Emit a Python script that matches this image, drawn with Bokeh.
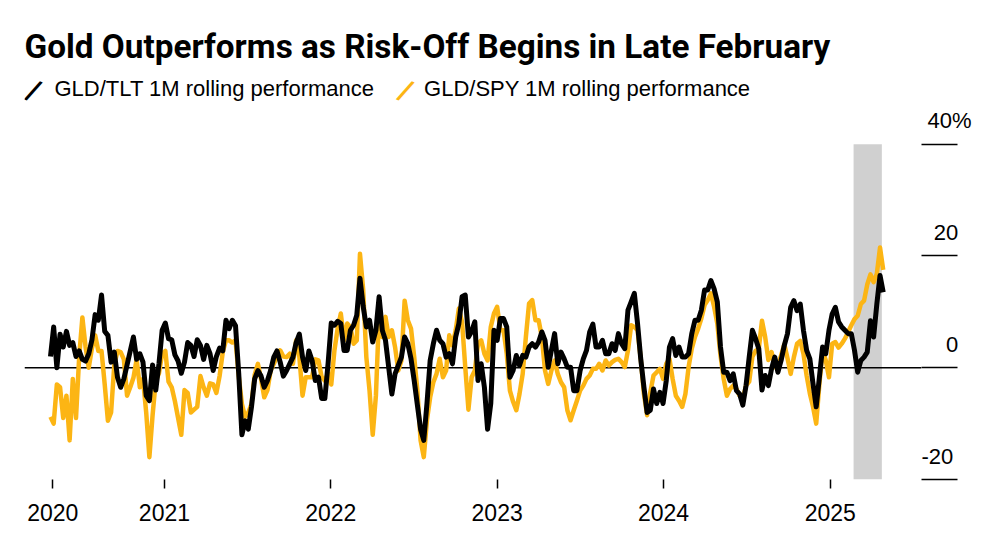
import pandas as pd
from bokeh.plotting import figure
from bokeh.models import (Range1d, FixedTicker, DatetimeTickFormatter, Span, BoxAnnotation,
                          Legend, LegendItem, ColumnDataSource, LinearAxis, Label)
from bokeh.embed import file_html
from bokeh.resources import INLINE

# ---------------- data (weekly) ----------------
start_date = "2020-04-26"

gld_tlt = [
    2.0, 7.3, 0.0, 6.0, 3.7, 6.5, 4.0, 4.5, 2.0, 3.0,
    1.5, 1.2, 2.5, 5.0, 9.5, 8.5, 13.0, 6.5, 5.8, 1.0,
    2.8, -1.7, -3.5, -2.0, 0.5, 3.0, 5.5, 1.5, 2.5, 1.0,
    -5.0, -5.9, 0.5, -4.0, 0.7, 6.7, 8.0, 5.2, 5.0, 2.3,
    1.2, -1.0, 1.0, 4.5, 4.0, 2.0, 5.0, 4.0, 1.5, 4.0,
    2.5, -0.5, 2.0, 3.5, 3.0, 8.5, 7.0, 8.5, 7.5, -1.0,
    -12.0, -9.5, -11.0, -7.0, -2.0, -0.5, -1.5, -3.5, -2.3, -0.5,
    1.9, 3.0, 1.0, -1.5, -0.5, 0.7, 1.9, 4.5, 6.0, 1.9,
    -0.5, 3.0, 1.3, -2.3, -1.7, -5.5, -5.5, 0.7, 8.0, 7.6,
    8.3, 7.9, 3.1, 3.1, 6.7, 7.6, 9.4, 16.0, 11.0, 7.3,
    8.5, 4.6, 6.7, 12.7, 6.7, 4.9, 0.1, -4.7, -1.1, 0.4,
    1.9, 5.5, 4.3, 1.6, -2.3, -6.7, -11.0, -13.0, -6.4, 1.3,
    4.3, 6.7, 4.9, 4.3, 1.9, 2.5, 0.7, 5.5, 7.9, 12.7,
    13.0, 5.5, 6.5, 8.2, -2.3, 0.7, -3.5, -11.0, -6.4, 6.7,
    4.9, 8.8, 8.8, 7.3, -1.7, -0.5, 2.2, 0.4, 2.2, 1.9,
    3.7, 4.3, 3.7, 4.6, 6.4, 4.9, 0.1, 3.1, 6.1, 0.7,
    2.8, 1.6, 0.1, 0.1, -4.1, -4.1, -0.5, 1.6, 3.1, 6.4,
    7.8, 3.7, 3.7, 4.9, 2.5, 2.5, 4.3, 3.1, 6.1, 4.3,
    3.4, 10.3, 11.8, 13.3, 7.9, 1.6, -3.5, -8.0, -7.6, -3.8,
    -6.4, -4.4, -6.4, -2.3, 3.7, 5.2, 2.2, 3.7, 1.9, 1.9,
    2.5, 6.1, 8.5, 8.5, 10.3, 13.9, 13.9, 15.6, 14.1, 11.8,
    3.7, -0.8, -0.8, -2.3, -1.1, -4.1, -4.7, -6.7, -3.2, 1.9,
    6.7, 5.2, 3.4, -4.0, -1.4, -3.2, -0.2, 1.9, -0.8, 1.3,
    4.0, 6.1, 10.8, 12.0, 10.2, 11.4, 6.7, 3.1, 1.6, -2.9,
    -7.0, -1.7, 3.7, 2.5, 6.7, 9.6, 10.8, 8.2, 7.3, 6.7,
    6.1, 6.1, 3.1, -0.8, 1.3, 1.9, 2.8, 8.4, 5.5, 11.4,
    16.5, 13.5,
]

gld_spy = [
    -8.8, -10.0, -3.0, -3.5, -9.0, -5.0, -13.0, -2.0, -9.0, 2.0,
    9.0, 3.7, 0.0, 3.5, 5.8, 3.0, 3.0, -3.0, -9.5, -8.0,
    0.5, 3.0, 2.8, 1.5, -5.0, -3.5, -1.8, 1.5, -3.5, -2.0,
    -8.0, -16.0, -8.5, -2.3, -1.0, 2.5, 3.0, -2.5, -3.5, -6.0,
    -9.0, -12.0, -4.0, -4.5, -8.0, -7.5, -7.0, -1.5, -3.5, -5.0,
    -2.8, -3.0, -4.5, -1.5, 2.8, 4.9, 4.9, 4.5, 4.9, -1.5,
    -6.5, -8.8, -8.0, -6.5, -1.3, 0.7, -2.0, -5.3, -4.0, -0.5,
    0.7, 2.0, 3.1, 2.0, 1.9, 2.5, 0.7, 4.9, 2.0, -5.0,
    -1.7, -1.7, -1.7, 1.5, 1.3, -1.7, -2.3, -1.0, -3.0, 3.1,
    7.0, 9.7, 4.9, 7.9, 7.3, 4.3, 4.9, 20.4, 14.0, 1.9,
    -4.1, -12.0, -5.0, 9.7, 5.5, 9.1, 5.5, 6.7, 3.7, -0.5,
    1.3, 12.0, 8.5, 7.0, 1.9, -4.1, -13.0, -16.0, -9.4, -5.3,
    -2.6, -1.1, 1.6, -1.7, -0.5, 5.8, 4.0, 6.7, 10.6, 8.2,
    0.1, -7.5, -1.7, -0.5, 4.3, 4.9, 2.5, 1.3, 7.3, 9.7,
    10.9, 6.7, 6.7, 2.5, -4.1, -6.1, -7.6, -4.7, -1.1, 5.5,
    11.5, 12.1, 8.5, 8.5, 5.5, -0.5, -2.9, -0.5, 1.3, -1.1,
    -2.6, -3.5, -7.6, -9.4, -7.6, -5.9, -4.1, -3.2, -2.0, -1.4,
    -0.2, -0.2, 0.7, -0.5, 1.3, 0.4, 1.0, 1.4, 1.6, 1.0,
    0.1, 3.1, 7.6, 7.3, 6.7, 1.6, -4.7, -8.5, -4.4, -1.4,
    -0.8, -0.2, -2.0, 0.7, 1.6, -2.0, -5.0, -5.9, -7.0, -4.7,
    0.1, 3.4, 5.5, 7.0, 8.8, 11.2, 12.1, 13.3, 10.9, 7.9,
    2.2, -2.0, -5.0, -3.8, -3.2, -3.8, -5.0, -5.6, -3.2, -2.5,
    2.0, 3.0, 3.4, 8.4, 5.5, 1.4, 2.8, 0.1, 0.4, 2.2,
    4.2, 1.7, -1.1, 1.9, 4.3, 4.8, 2.5, -1.4, -4.6, -7.0,
    -10.0, -2.9, 3.1, 1.3, -1.7, 4.3, 4.6, 3.6, 4.3, 5.2,
    6.4, 7.6, 8.7, 9.3, 11.4, 12.0, 14.9, 16.7, 15.3, 16.8,
    21.5, 17.5,
]

x_tick_dates = ["2020-05-01", "2021-01-01", "2022-01-01", "2023-01-01", "2024-01-01", "2025-01-01"]
y_ticks = [-20, 0, 20, 40]
# labels are padded with typographic spaces so that the digits line up on the right
y_tick_labels = {-20: "-20", 0: "\u2007\u20070", 20: "\u200720", 40: "\u200840%"}
shade_start, shade_end = "2025-02-21", "2025-04-24"

title_text = "Gold Outperforms as Risk-Off Begins in Late February"
series_names = ["GLD/TLT 1M rolling performance", "GLD/SPY 1M rolling performance"]

BLACK = "#000000"
YELLOW = "#FCB514"
GRAY = "#d0d0d0"

# ---------------- figure ----------------
dates = pd.date_range(start_date, periods=len(gld_tlt), freq="7D")
src = ColumnDataSource(dict(date=dates, tlt=gld_tlt, spy=gld_spy))

y_top = 53.9         # value at the top of the plot area (leaves room for the legend)
label_lift = 4.2     # labels sit this far (in value units) above their tick lines

p = figure(width=1000, height=545, x_axis_type="datetime", y_axis_location="right",
           x_range=Range1d(dates[0] - pd.Timedelta(days=57), dates[-1] + pd.Timedelta(days=84)),
           y_range=Range1d(y_ticks[0], y_top),
           output_backend="svg", toolbar_location=None,
           min_border_left=24, min_border_right=79, min_border_top=66, min_border_bottom=66)
p.extra_y_ranges = {"labels": Range1d(y_ticks[0] - label_lift, y_top - label_lift)}
p.outline_line_color = None
p.xgrid.visible = False
p.ygrid.visible = False
p.background_fill_color = "white"
p.border_fill_color = "white"

p.title.text = title_text
p.title.text_font = "Roboto"
p.title.text_font_style = "bold"
p.title.text_font_size = "33.3px"
p.title.text_color = BLACK
p.title.align = "left"
p.title.standoff = 2

# shaded period and zero line
p.add_layout(BoxAnnotation(left=pd.Timestamp(shade_start), right=pd.Timestamp(shade_end),
                           bottom=y_ticks[0], top=y_ticks[-1], fill_color=GRAY, fill_alpha=1.0,
                           line_color=None, level="underlay"))
p.add_layout(Span(location=0, dimension="width", line_color=BLACK, line_width=1.3, level="underlay"))

# series
p.line("date", "spy", source=src, line_color=YELLOW, line_width=4.5, line_join="round")
p.line("date", "tlt", source=src, line_color=BLACK, line_width=5, line_join="round")

# x axis
p.xaxis.ticker = FixedTicker(ticks=[pd.Timestamp(d).value / 1e6 for d in x_tick_dates])
p.xaxis.formatter = DatetimeTickFormatter(years="%Y", months="%Y", days="%Y", hours="%Y",
                                          minutes="%Y", seconds="%Y", milliseconds="%Y",
                                          microseconds="%Y", minsec="%Y", hourmin="%Y")
p.xaxis.axis_line_color = None
p.xaxis.major_tick_out = 9
p.xaxis.major_tick_in = 0
p.xaxis.major_tick_line_width = 1.5
p.xaxis.major_tick_line_color = BLACK
p.xaxis.minor_tick_line_color = None
p.xaxis.major_label_text_font = "Liberation Sans"
p.xaxis.major_label_text_font_size = "23px"
p.xaxis.major_label_text_color = BLACK
p.xaxis.major_label_standoff = 15

# y axis (right): short tick lines only
p.yaxis.ticker = FixedTicker(ticks=y_ticks)
p.yaxis.axis_line_color = None
p.yaxis.major_tick_out = 36
p.yaxis.major_tick_in = 0
p.yaxis.major_tick_line_width = 1.5
p.yaxis.major_tick_line_color = BLACK
p.yaxis.minor_tick_line_color = None
p.yaxis.major_label_standoff = 0
p.yaxis.major_label_text_font_size = "0px"
p.yaxis.major_label_text_color = None

# second right axis: the tick labels, lifted above the tick lines
lab_axis = LinearAxis(y_range_name="labels", ticker=FixedTicker(ticks=y_ticks),
                      major_label_overrides=y_tick_labels,
                      axis_line_color=None, major_tick_line_color=None, minor_tick_line_color=None,
                      major_tick_out=0, major_tick_in=0, major_label_standoff=-36,
                      major_label_text_font="Liberation Sans", major_label_text_font_size="22px",
                      major_label_text_color=BLACK)
p.add_layout(lab_axis, "right")

# legend: labels from a Legend, coloured slash strokes drawn as rotated "/" labels
nan = float("nan")
leg_b = p.scatter(x=[dates[0]], y=[nan], marker="dash", line_color=BLACK, line_alpha=0)
leg_y = p.scatter(x=[dates[0]], y=[nan], marker="dash", line_color=YELLOW, line_alpha=0)
legend = Legend(items=[LegendItem(label=series_names[0], renderers=[leg_b]),
                       LegendItem(label=series_names[1], renderers=[leg_y])],
                orientation="horizontal", location=(-19.5, 365),
                glyph_width=50, glyph_height=50, label_standoff=0, spacing=0,
                padding=0, margin=0, border_line_color=None, background_fill_alpha=0,
                label_text_font="Liberation Sans", label_text_font_size="22px",
                label_text_color=BLACK)
p.add_layout(legend)

for sx, col in ((9, BLACK), (381, YELLOW)):
    p.add_layout(Label(x=sx, y=389, x_units="screen", y_units="screen", text="/",
                       angle=-0.42, text_align="center", text_baseline="middle",
                       text_font="DejaVu Sans", text_font_style="bold", text_font_size="28px",
                       text_color=col))

open("out.html", "w").write(file_html(p, INLINE))
